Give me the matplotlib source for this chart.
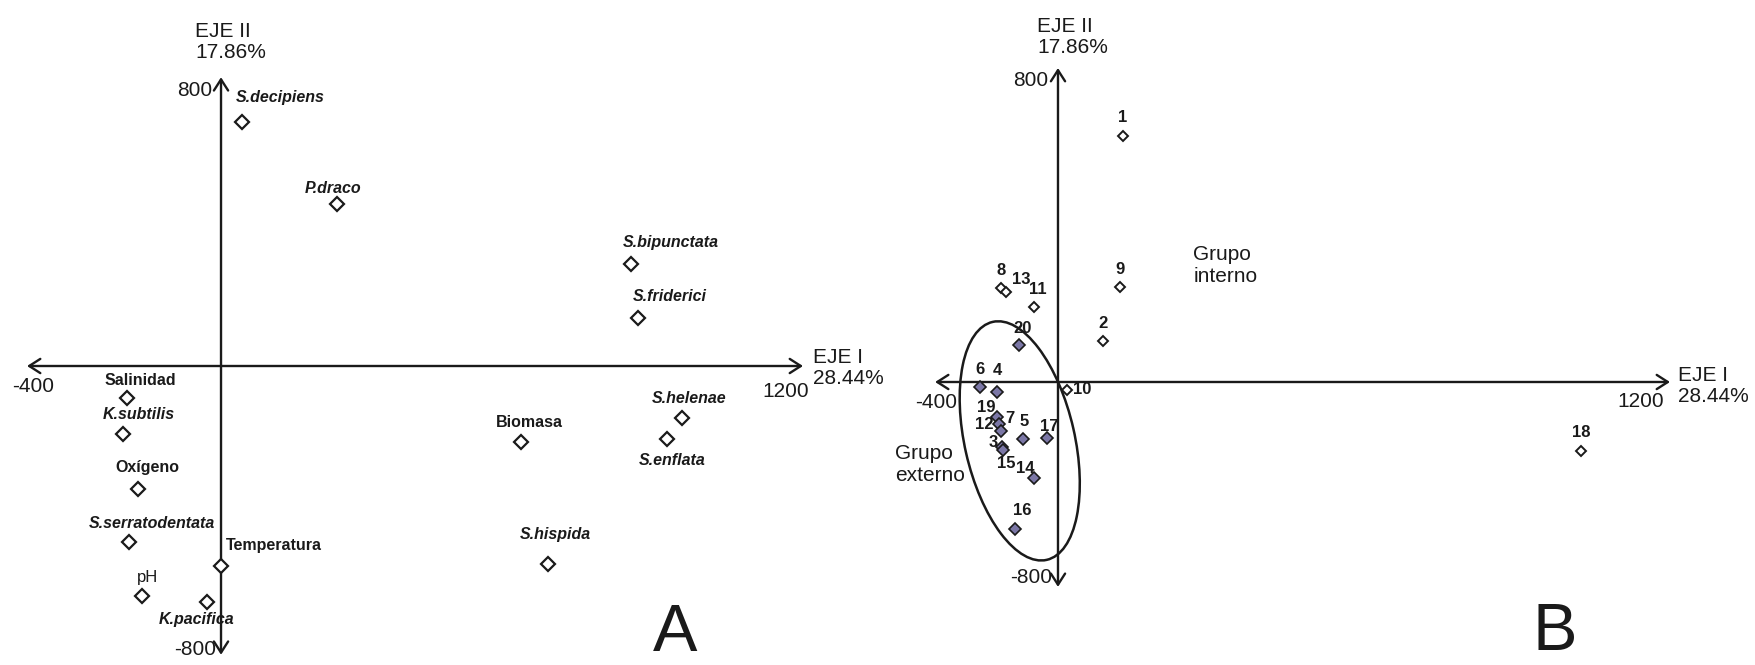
import matplotlib
matplotlib.use('Agg')
import matplotlib.pyplot as plt
from matplotlib.patches import Ellipse
import matplotlib.transforms as mtransforms

# Panel A: species and environmental variables on the first two CCA axes
a_labels = ['S.decipiens', 'P.draco', 'S.bipunctata', 'S.friderici', 'S.helenae',
            'S.enflata', 'Biomasa', 'S.hispida', 'Salinidad', 'K.subtilis',
            'Oxígeno', 'S.serratodentata', 'Temperatura', 'pH', 'K.pacifica']
a_x = [43, 239, 845, 860, 950, 920, 619, 674, -194, -202, -171, -190, 0, -163, -29]
a_y = [676, 449, 282, 133, -144, -202, -211, -548, -89, -188, -341, -488, -554, -637, -654]
a_kind = ['sp', 'sp', 'sp', 'sp', 'sp', 'sp', 'var', 'sp', 'var', 'sp',
          'var', 'sp', 'var', 'ph', 'sp']

# Panel B: sampling stations, the outer group is shaded
b_labels = ['1', '9', '2', '8', '13', '11', '20', '6', '4', '10',
            '19', '12', '7', '3', '15', '5', '17', '14', '16', '18']
b_x = [127, 122, 88, -112, -102, -47, -76, -153, -120, 18,
       -119, -116, -112, -110, -108, -69, -22, -47, -84, 1025]
b_y = [627, 242, 104, 240, 229, 191, 94, -13, -25, -20,
       -89, -107, -125, -166, -173, -145, -143, -245, -375, -176]
b_outer = [False, False, False, False, False, False, True, True, True, False,
           True, True, True, True, True, True, True, True, True, False]

eje1 = 'EJE I\n28.44%'
eje2 = 'EJE II\n17.86%'

# label offsets in pixels (dx, dy), y upwards
a_off = [(38, 24), (-4, 15), (40, 22), (32, 21), (7, 19), (5, -22), (8, 20), (7, 29),
         (13, 18), (16, 19), (9, 22), (23, 19), (53, 20), (6, 18), (-10, -17)]
b_off = [(0, 18), (0, 18), (0, 18), (0, 17), (15, 13), (4, 18), (3, 17), (0, 18),
         (1, 21), (15, 0), (-11, 9), (-15, -1), (9, 13), (-9, 5), (3, -14),
         (1, 17), (2, 12), (-9, 10), (7, 19), (0, 19)]

FONT = ['Liberation Sans', 'DejaVu Sans']
INK = '#1a1a1a'

fig = plt.figure(figsize=(17.56, 6.65), dpi=100)
fig.patch.set_facecolor('white')

axA = fig.add_axes([0, 0, 0.5, 1])
axA.set_xlim(-455.7, 1354.6)
axA.set_ylim(-828.3, 1013.9)

axB = fig.add_axes([0.5, 0, 0.5, 1])
axB.set_xlim(-352.9, 1368.6)
axB.set_ylim(-721.0, 973.2)

for ax in (axA, axB):
    ax.axis('off')

arrow = dict(arrowstyle='<->,head_length=0.5,head_width=0.32', lw=1.7, color=INK,
             shrinkA=0, shrinkB=0, mutation_scale=16)


def draw_axes(ax, xmin, xmax, ymin, ymax, offs):
    ax.annotate('', xy=(xmax, 0), xytext=(xmin, 0), arrowprops=arrow, zorder=1)
    ax.annotate('', xy=(0, ymax), xytext=(0, ymin), arrowprops=arrow, zorder=1)
    kw = dict(textcoords='offset pixels', family=FONT, fontsize=15, color=INK)
    ax.annotate('800', (0, ymax), xytext=offs['top'], ha='right', va='center', **kw)
    ax.annotate('-800', (0, ymin), xytext=offs['bottom'], ha='right', va='center', **kw)
    ax.annotate('-400', (xmin, 0), xytext=offs['left'], ha='center', va='center', **kw)
    ax.annotate('1200', (xmax, 0), xytext=offs['right'], ha='center', va='center', **kw)
    ax.annotate(eje1, (xmax, 0), xytext=offs['eje1'], ha='left', va='center',
                linespacing=1.15, **kw)
    ax.annotate(eje2, (0, ymax), xytext=offs['eje2'], ha='left', va='center',
                linespacing=1.15, **kw)


draw_axes(axA, -400, 1200, -800, 800,
          dict(top=(-9, -13), bottom=(-5, 5), left=(6, -21), right=(-17, -26),
               eje1=(10, -2), eje2=(-26, 35)))
draw_axes(axB, -241, 1200, -522, 800,
          dict(top=(-10, -13), bottom=(-6, 9), left=(1, -21), right=(-29, -20),
               eje1=(8, -4), eje2=(-21, 31)))

# Panel A points and labels
axA.plot(a_x, a_y, linestyle='none', marker='D', ms=7.6, mfc='white', mec=INK,
         mew=1.6, zorder=3)
for lab, x, y, k, off in zip(a_labels, a_x, a_y, a_kind, a_off):
    if k == 'sp':
        style, weight = 'italic', 'bold'
    elif k == 'var':
        style, weight = 'normal', 'bold'
    else:
        style, weight = 'normal', 'normal'
    axA.annotate(lab, (x, y), xytext=off, textcoords='offset pixels', ha='center',
                 va='center', family=FONT, fontsize=12 if k == 'ph' else 11.5,
                 fontstyle=style, fontweight=weight, color=INK, zorder=4)

# Panel B points and labels
for lab, x, y, outer, off in zip(b_labels, b_x, b_y, b_outer, b_off):
    if outer:
        axB.plot(x, y, linestyle='none', marker='D', ms=6.0, mfc='#7b77a6',
                 mec=INK, mew=1.2, zorder=3)
    else:
        axB.plot(x, y, linestyle='none', marker='D', ms=5.2, mfc='white',
                 mec=INK, mew=1.4, zorder=3)
    axB.annotate(lab, (x, y), xytext=off, textcoords='offset pixels', ha='center',
                 va='center', family=FONT, fontsize=12, fontweight='bold',
                 color=INK, zorder=4)

# ellipse round the outer group (size in inches, centred in data units)
ell_tr = fig.dpi_scale_trans + mtransforms.ScaledTranslation(-75, -150, axB.transData)
axB.add_patch(Ellipse((0, 0), 2.44, 1.10, angle=102.8, transform=ell_tr,
                      fill=False, ec=INK, lw=1.8, zorder=2))

axB.text(265, 296, 'Grupo\ninterno', ha='left', va='center', family=FONT,
         fontsize=15, color=INK, linespacing=1.2)
axB.text(-320, -211, 'Grupo\nexterno', ha='left', va='center', family=FONT,
         fontsize=15, color=INK, linespacing=1.2)

fig.text(0.3844, 0.0466, 'A', ha='center', va='center', family=FONT,
         fontsize=48, color=INK)
fig.text(0.8856, 0.0481, 'B', ha='center', va='center', family=FONT,
         fontsize=48, color=INK)

fig.savefig('out.png', dpi=100, facecolor='white')
